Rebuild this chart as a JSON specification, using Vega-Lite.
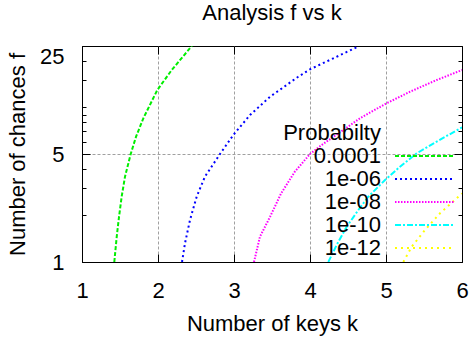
{
  "$schema": "https://vega.github.io/schema/vega-lite/v6.json",
  "width": 380,
  "height": 216,
  "autosize": {"type": "none"},
  "padding": {"left": 82, "top": 46, "right": 10, "bottom": 81},
  "background": "white",
  "title": {"text": "Analysis f vs k", "fontSize": 22, "fontWeight": "normal", "frame": "group", "anchor": "middle", "offset": 18, "color": "#000"},
  "data": {"values": [
    {"k": 1.425, "f": 1, "p": "0.0001"},
    {"k": 1.457, "f": 1.46, "p": "0.0001"},
    {"k": 1.487, "f": 1.96, "p": "0.0001"},
    {"k": 1.522, "f": 2.65, "p": "0.0001"},
    {"k": 1.566, "f": 3.57, "p": "0.0001"},
    {"k": 1.641, "f": 5, "p": "0.0001"},
    {"k": 1.711, "f": 6.47, "p": "0.0001"},
    {"k": 1.807, "f": 8.51, "p": "0.0001"},
    {"k": 1.991, "f": 12.98, "p": "0.0001"},
    {"k": 2.18, "f": 17.47, "p": "0.0001"},
    {"k": 2.421, "f": 24.2, "p": "0.0001"},
    {"k": 2.447, "f": 25, "p": "0.0001"},
    {"k": 2.316, "f": 1, "p": "1e-06"},
    {"k": 2.355, "f": 1.32, "p": "1e-06"},
    {"k": 2.421, "f": 1.87, "p": "1e-06"},
    {"k": 2.509, "f": 2.65, "p": "1e-06"},
    {"k": 2.618, "f": 3.57, "p": "1e-06"},
    {"k": 2.816, "f": 5, "p": "1e-06"},
    {"k": 2.991, "f": 6.64, "p": "1e-06"},
    {"k": 3.211, "f": 8.94, "p": "1e-06"},
    {"k": 3.474, "f": 11.74, "p": "1e-06"},
    {"k": 3.846, "f": 15.82, "p": "1e-06"},
    {"k": 4.0, "f": 17.67, "p": "1e-06"},
    {"k": 4.307, "f": 20.81, "p": "1e-06"},
    {"k": 4.614, "f": 24.52, "p": "1e-06"},
    {"k": 4.632, "f": 25, "p": "1e-06"},
    {"k": 3.263, "f": 1, "p": "1e-08"},
    {"k": 3.342, "f": 1.46, "p": "1e-08"},
    {"k": 3.474, "f": 1.96, "p": "1e-08"},
    {"k": 3.62, "f": 2.78, "p": "1e-08"},
    {"k": 3.80, "f": 3.84, "p": "1e-08"},
    {"k": 4.0, "f": 5, "p": "1e-08"},
    {"k": 4.154, "f": 5.72, "p": "1e-08"},
    {"k": 4.438, "f": 7.15, "p": "1e-08"},
    {"k": 4.658, "f": 8.52, "p": "1e-08"},
    {"k": 5.0, "f": 10.6, "p": "1e-08"},
    {"k": 5.316, "f": 12.65, "p": "1e-08"},
    {"k": 5.667, "f": 15.06, "p": "1e-08"},
    {"k": 6.0, "f": 17.47, "p": "1e-08"},
    {"k": 4.241, "f": 1, "p": "1e-10"},
    {"k": 4.351, "f": 1.288, "p": "1e-10"},
    {"k": 4.483, "f": 1.692, "p": "1e-10"},
    {"k": 4.636, "f": 2.17, "p": "1e-10"},
    {"k": 4.767, "f": 2.646, "p": "1e-10"},
    {"k": 4.987, "f": 3.39, "p": "1e-10"},
    {"k": 5.184, "f": 4.14, "p": "1e-10"},
    {"k": 5.404, "f": 5.05, "p": "1e-10"},
    {"k": 5.667, "f": 6.01, "p": "1e-10"},
    {"k": 6.0, "f": 7.44, "p": "1e-10"},
    {"k": 5.228, "f": 1, "p": "1e-12"},
    {"k": 5.338, "f": 1.256, "p": "1e-12"},
    {"k": 5.513, "f": 1.611, "p": "1e-12"},
    {"k": 5.711, "f": 2.067, "p": "1e-12"},
    {"k": 6.0, "f": 2.775, "p": "1e-12"}
  ]},
  "layer": [
    {
      "mark": {"type": "line", "strokeWidth": 2, "clip": true},
      "encoding": {
        "x": {"field": "k", "type": "quantitative",
          "scale": {"domain": [1, 6], "nice": false, "zero": false},
          "axis": {"orient": "bottom", "values": [1, 2, 3, 4, 5, 6], "format": "d", "tickSize": -8, "labelPadding": 26, "labelFlush": false,
            "grid": true, "gridDash": [3, 2], "gridColor": "#a0a0a0",
            "gridOpacity": {"condition": {"test": "datum.value == 1 || datum.value == 6", "value": 0}, "value": 1},
            "title": "Number of keys k", "titlePadding": 12}},
        "y": {"field": "f", "type": "quantitative",
          "scale": {"type": "log", "domain": [1, 25], "nice": false},
          "axis": {"orient": "left", "values": [1, 2, 3, 4, 5, 6, 7, 8, 9, 10, 15, 20, 25],
            "labelExpr": "datum.value == 1 || datum.value == 5 || datum.value == 25 ? '' + datum.value : ''",
            "labelOverlap": false, "labelPadding": 26,
            "labelBaseline": {"condition": {"test": "datum.value == 25", "value": "top"}, "value": "middle"},
            "tickSize": {"condition": {"test": "datum.value == 1 || datum.value == 5 || datum.value == 25", "value": -8}, "value": -4},
            "grid": true, "gridDash": [3, 2], "gridColor": "#a0a0a0",
            "gridOpacity": {"condition": {"test": "datum.value == 5", "value": 1}, "value": 0},
            "title": "Number of chances f", "titlePadding": 10}},
        "color": {"field": "p", "type": "nominal",
          "scale": {"domain": ["0.0001", "1e-06", "1e-08", "1e-10", "1e-12"], "range": ["#00ee00", "#0000ff", "#ff00ff", "#00ffff", "#ffff00"]},
          "legend": {"orient": "none", "legendX": 201, "legendY": 77, "title": "Probabilty", "titleFontSize": 22, "titleFontWeight": "normal", "titleAnchor": "start", "titleAlign": "right", "titlePadding": 0, "labelFontSize": 22, "labelAlign": "right", "labelOffset": -55, "symbolOffset": 33, "symbolType": "M-5,0H5", "symbolSize": 144, "symbolStrokeWidth": 2, "rowPadding": 1, "padding": 0, "labelLimit": 300}},
        "strokeDash": {"field": "p", "type": "nominal",
          "scale": {"domain": ["0.0001", "1e-06", "1e-08", "1e-10", "1e-12"], "range": [[4, 2], [2, 3], [1.5, 1.5], [6, 2, 2, 2], [2, 4]]},
          "legend": {"orient": "none", "legendX": 201, "legendY": 77, "title": "Probabilty", "titleFontSize": 22, "titleFontWeight": "normal", "titleAnchor": "start", "titleAlign": "right", "titlePadding": 0, "labelFontSize": 22, "labelAlign": "right", "labelOffset": -55, "symbolOffset": 33, "symbolType": "M-5,0H5", "symbolSize": 144, "symbolStrokeWidth": 2, "rowPadding": 1, "padding": 0, "labelLimit": 300}}
      }
    },
    {
      "mark": {"type": "point", "opacity": 0},
      "encoding": {
        "x": {"field": "k", "type": "quantitative",
          "axis": {"orient": "top", "values": [1, 2, 3, 4, 5, 6], "tickSize": -8, "labels": false, "domain": false, "grid": false, "title": null}},
        "y": {"field": "f", "type": "quantitative",
          "axis": {"orient": "right", "values": [1, 2, 3, 4, 5, 6, 7, 8, 9, 10, 15, 20, 25], "labels": false, "domain": false, "grid": false, "title": null,
            "tickSize": {"condition": {"test": "datum.value == 1 || datum.value == 5 || datum.value == 25", "value": -8}, "value": -4}}}
      }
    }
  ],
  "resolve": {"axis": {"x": "independent", "y": "independent"}},
  "config": {
    "font": "Liberation Sans",
    "view": {"stroke": "#000", "strokeWidth": 1},
    "axis": {"labelFontSize": 22, "titleFontSize": 22, "titleFontWeight": "normal", "labelColor": "#000", "titleColor": "#000", "tickColor": "#000", "domainColor": "#000", "domainWidth": 1, "tickWidth": 1}
  }
}
